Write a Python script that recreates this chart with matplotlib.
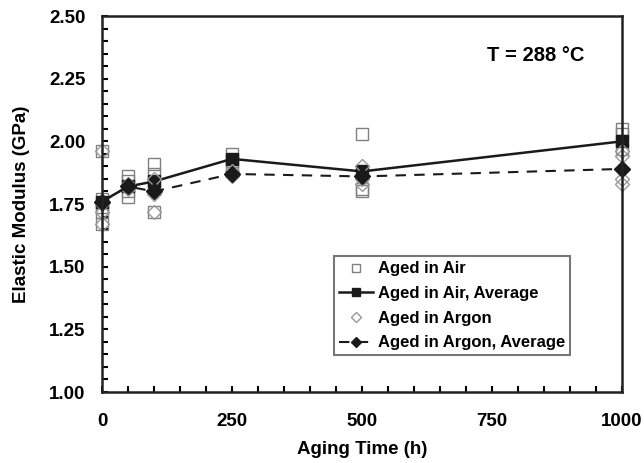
import matplotlib.pyplot as plt
from matplotlib.ticker import MultipleLocator

plt.rcParams['font.family'] = ['Liberation Sans', 'DejaVu Sans']

# individual measurements
air_time = [0, 0, 0, 0, 0, 50, 50, 50, 50, 100, 100, 100, 100, 250, 250, 250, 500, 500, 500, 1000, 1000, 1000]
air_mod = [1.96, 1.77, 1.74, 1.72, 1.67, 1.86, 1.84, 1.80, 1.78, 1.91, 1.87, 1.83, 1.72,
           1.95, 1.92, 1.90, 2.03, 1.81, 1.80, 2.05, 2.03, 1.97]

argon_time = [0, 0, 0, 0, 50, 50, 100, 100, 100, 250, 250, 250, 500, 500, 500, 1000, 1000, 1000, 1000]
argon_mod = [1.96, 1.75, 1.72, 1.67, 1.83, 1.81, 1.85, 1.79, 1.72, 1.88, 1.87, 1.86,
             1.90, 1.85, 1.83, 1.96, 1.94, 1.85, 1.83]

# averages
avg_time = [0, 50, 100, 250, 500, 1000]
air_avg = [1.76, 1.82, 1.84, 1.93, 1.88, 2.00]
argon_avg = [1.76, 1.82, 1.80, 1.87, 1.86, 1.89]

fig = plt.figure(figsize=(6.44, 4.63), dpi=100)
ax = fig.add_axes([0.1584, 0.1533, 0.8074, 0.8121])

ax.plot(air_time, air_mod, linestyle='none', marker='s', markersize=9, clip_on=False,
        markerfacecolor='none', markeredgecolor='#808080', markeredgewidth=1, label='Aged in Air')
ax.plot(avg_time, air_avg, color='#1a1a1a', linewidth=1.8, marker='s', markersize=8, clip_on=False,
        label='Aged in Air, Average')
ax.plot(argon_time, argon_mod, linestyle='none', marker='D', markersize=7, clip_on=False,
        markerfacecolor='none', markeredgecolor='#9a9a9a', markeredgewidth=1, label='Aged in Argon')
ax.plot(avg_time, argon_avg, color='#1a1a1a', linewidth=1.5, linestyle=(0, (5, 4)), marker='D',
        markersize=8, clip_on=False, label='Aged in Argon, Average')

ax.set_xlim(0, 1000)
ax.set_ylim(1.0, 2.5)
ax.xaxis.set_major_locator(MultipleLocator(250))
ax.xaxis.set_minor_locator(MultipleLocator(50))
ax.yaxis.set_major_locator(MultipleLocator(0.25))
ax.yaxis.set_minor_locator(MultipleLocator(0.05))
ax.yaxis.set_major_formatter(plt.FormatStrFormatter('%.2f'))
ax.tick_params(which='both', direction='in', length=4, width=1.5, top=False, right=False)
ax.tick_params(axis='y', which='major', labelsize=13.5, pad=12)
ax.tick_params(axis='x', which='major', labelsize=13.5, pad=15)
for lab in ax.get_xticklabels() + ax.get_yticklabels():
    lab.set_fontweight('bold')
for s in ax.spines.values():
    s.set_linewidth(1.8)
    s.set_color('#222222')

ax.set_xlabel('Aging Time (h)', fontsize=13.5, fontweight='bold', labelpad=8)
ax.set_ylabel('Elastic Modulus (GPa)', fontsize=13.5, fontweight='bold', labelpad=14)

ax.text(0.835, 0.895, 'T = 288 °C', transform=ax.transAxes, ha='center', va='center',
        fontsize=14.5, fontweight='bold')

leg = ax.legend(loc='lower right', bbox_to_anchor=(0.916, 0.075), frameon=True,
                fancybox=False, edgecolor='#555555', handlelength=2.0, handletextpad=0.3,
                borderpad=0.3, labelspacing=0.58, markerscale=0.7,
                prop={'weight': 'bold', 'size': 12})
leg.get_frame().set_linewidth(1.5)

fig.savefig('out.png', dpi=100)
